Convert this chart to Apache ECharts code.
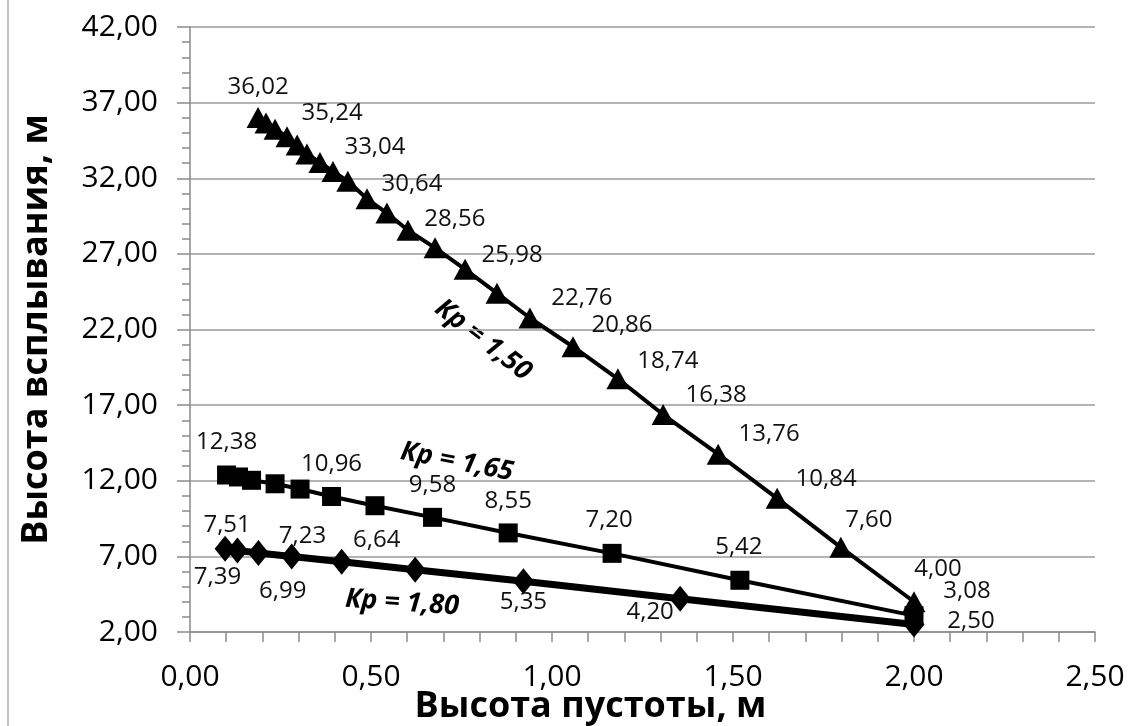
<!DOCTYPE html>
<html>
<head>
<meta charset="utf-8">
<script src="https://cdn.jsdelivr.net/npm/echarts@6/dist/echarts.min.js"></script>
<style>
html,body{margin:0;padding:0;background:#fff;}
#c{width:1134px;height:726px;}
</style>
</head>
<body>
<div id="c"></div>
<script>
// ---- data ----
const xAxisTitle = 'Высота пустоты, м';
const yAxisTitle = 'Высота всплывания, м';
const seriesNames = ['Кр = 1,50', 'Кр = 1,65', 'Кр = 1,80'];

const kp150X = [0.188,0.210,0.235,0.268,0.296,0.323,0.359,0.395,0.436,0.489,0.544,0.602,0.677,0.760,0.848,0.939,1.058,1.182,1.307,1.459,1.622,1.798,2.000];
const kp150Y = [36.02,35.65,35.24,34.75,34.20,33.60,33.04,32.45,31.80,30.64,29.70,28.56,27.40,25.98,24.40,22.76,20.86,18.74,16.38,13.76,10.84,7.60,4.00];

const kp165X = [0.101,0.134,0.170,0.235,0.304,0.391,0.511,0.670,0.879,1.166,1.519,2.000];
const kp165Y = [12.38,12.25,12.03,11.80,11.45,10.96,10.35,9.58,8.55,7.20,5.42,3.08];

const kp180X = [0.097,0.131,0.189,0.281,0.419,0.622,0.921,1.354,2.000];
const kp180Y = [7.51,7.39,7.23,6.99,6.64,6.12,5.35,4.20,2.50];

// ---- label placement (style only): index -> [dx, dy] of label centre from point ----
const kp150Lbl = {0:[0,-30],2:[57,-16],6:[55,-15],9:[45,-15],11:[47,-11],13:[47,-14],15:[52,-20],16:[49,-22],17:[50,-18],18:[53,-19],19:[51,-20],20:[49,-19],21:[28,-27],22:[24,-33]};
const kp165Lbl = {0:[0,-33],5:[0,-32],7:[0,-32],8:[0,-32],9:[-3,-33],10:[-1,-33],11:[53,-25]};
const kp180Lbl = {0:[2,-24],1:[-20,27],2:[44,-17],3:[-9,35],4:[35,-22],6:[0,21],7:[-30,13],8:[57,-3]};

const FONT = 'Open Sans';
const fmt = v => v.toFixed(2).replace('.', ',');

function build(xs, ys, lbl) {
  return xs.map((x, i) => {
    const item = { value: [x, ys[i]] };
    if (lbl[i]) {
      item.label = { show: true, position: 'inside', offset: lbl[i] };
    } else {
      item.label = { show: false };
    }
    return item;
  });
}

const labelBase = {
  show: true,
  color: '#111',
  fontFamily: FONT,
  fontSize: 24,
  formatter: p => fmt(p.value[1])
};

const chart = echarts.init(document.getElementById('c'), null, { renderer: 'canvas' });

const option = {
  backgroundColor: '#fff',
  animation: false,
  textStyle: { fontFamily: FONT },
  grid: { left: 190, right: 39, top: 27, bottom: 94, containLabel: false, outerBoundsMode: 'none' },
  xAxis: {
    type: 'value',
    min: 0, max: 2.5, interval: 0.5,
    name: xAxisTitle,
    nameLocation: 'middle',
    nameGap: 57,
    nameMoveOverlap: false,
    nameTextStyle: { fontFamily: FONT, fontSize: 36, fontWeight: 'bold', color: '#000', padding: [0, 104, 0, 0] },
    axisLine: { show: true, lineStyle: { color: '#8a8a8a', width: 1.5 } },
    axisTick: { show: true, inside: false, length: 10, lineStyle: { color: '#8a8a8a', width: 1.5 } },
    minorTick: { show: true, splitNumber: 5, length: 10, lineStyle: { color: '#8a8a8a', width: 1.5 } },
    splitLine: { show: false },
    axisLabel: { margin: 30, fontFamily: FONT, fontSize: 30, color: '#000', formatter: fmt }
  },
  yAxis: {
    type: 'value',
    min: 2, max: 42, interval: 5,
    name: yAxisTitle,
    nameLocation: 'middle',
    nameGap: 135,
    nameMoveOverlap: false,
    nameRotate: 90,
    nameTextStyle: { fontFamily: FONT, fontSize: 36, fontWeight: 'bold', color: '#000' },
    axisLine: { show: true, lineStyle: { color: '#8a8a8a', width: 1.5 } },
    axisTick: { show: true, inside: false, length: 13, lineStyle: { color: '#8a8a8a', width: 1.5 } },
    minorTick: { show: true, splitNumber: 5, length: 8, lineStyle: { color: '#8a8a8a', width: 1.5 } },
    splitLine: { show: true, lineStyle: { color: '#9a9a9a', width: 1.5 } },
    axisLabel: { margin: 32, fontFamily: FONT, fontSize: 30, color: '#000', formatter: fmt }
  },
  series: [
    {
      name: seriesNames[2], type: 'line', z: 3,
      data: build(kp180X, kp180Y, kp180Lbl),
      symbol: 'diamond', symbolSize: [21, 26],
      lineStyle: { color: '#000', width: 7 },
      itemStyle: { color: '#000' },
      label: labelBase
    },
    {
      name: seriesNames[1], type: 'line', z: 4,
      data: build(kp165X, kp165Y, kp165Lbl),
      symbol: 'rect', symbolSize: 19,
      lineStyle: { color: '#000', width: 4 },
      itemStyle: { color: '#000' },
      label: labelBase
    },
    {
      name: seriesNames[0], type: 'line', z: 5,
      data: build(kp150X, kp150Y, kp150Lbl),
      symbol: 'triangle', symbolSize: [23, 21],
      lineStyle: { color: '#000', width: 4 },
      itemStyle: { color: '#000' },
      label: labelBase
    }
  ],
  graphic: [
    { type: 'line', shape: { x1: 8, y1: 0, x2: 8, y2: 726 }, style: { stroke: '#b0b0b0', lineWidth: 1.5 } },
    { type: 'text', x: 483, y: 340, rotation: -38 * Math.PI / 180,
      style: { text: seriesNames[0], font: 'italic bold 27px "Open Sans"', fill: '#000', textAlign: 'center', textVerticalAlign: 'middle' } },
    { type: 'text', x: 457, y: 462, rotation: -11 * Math.PI / 180,
      style: { text: seriesNames[1], font: 'italic bold 27px "Open Sans"', fill: '#000', textAlign: 'center', textVerticalAlign: 'middle' } },
    { type: 'text', x: 402, y: 603, rotation: -4 * Math.PI / 180,
      style: { text: seriesNames[2], font: 'italic bold 27px "Open Sans"', fill: '#000', textAlign: 'center', textVerticalAlign: 'middle' } }
  ]
};
chart.setOption(option);
</script>
</body>
</html>
